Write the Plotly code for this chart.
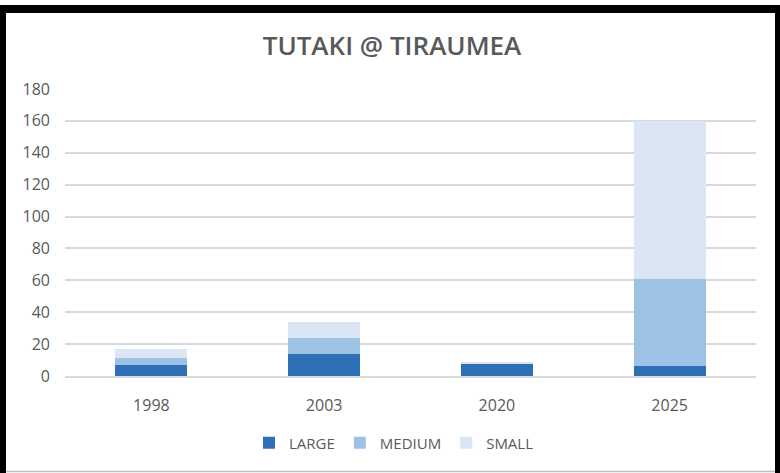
import plotly.graph_objects as go

years = ["1998", "2003", "2020", "2025"]
large = [7, 14, 8, 6]
medium = [4, 10, 0, 55]
small = [6, 10, 1, 99]
series_names = ["LARGE", "MEDIUM", "SMALL"]
y_ticks = [0, 20, 40, 60, 80, 100, 120, 140, 160, 180]

colors = ["#2E70B6", "#9DC2E5", "#DAE6F4"]

W, H = 780, 473
L, R, T, B = 65, 24, 89, 97
pw, ph = W - L - R, H - T - B


def px(x):
    return (x - L) / pw


def py(y):
    return (H - B - y) / ph


fig = go.Figure()
for name, vals, col in zip(series_names, [large, medium, small], colors):
    fig.add_trace(go.Bar(x=years, y=vals, name=name, marker=dict(color=col, line=dict(width=0))))

frame = [
    # outer frame: heavy black on left, top and right, thin grey at the bottom
    dict(x0=px(0), x1=px(6), y0=py(5), y1=py(473)),
    dict(x0=px(0), x1=px(780), y0=py(5), y1=py(13)),
    dict(x0=px(775), x1=px(780), y0=py(5), y1=py(473)),
]
shapes = [dict(type="rect", xref="paper", yref="paper", fillcolor="black", line=dict(width=0), layer="above", **f) for f in frame]
shapes.append(dict(type="line", xref="paper", yref="paper", x0=px(6), x1=px(775), y0=py(471.5), y1=py(471.5),
                   line=dict(color="#BFBFBF", width=1.5)))

fig.update_layout(
    width=W, height=H,
    margin=dict(l=L, r=R, t=T, b=B),
    barmode="stack",
    bargap=0.583,
    paper_bgcolor="white",
    plot_bgcolor="white",
    font=dict(family="Open Sans", color="#595959", size=15),
    title=dict(text="TUTAKI @ TIRAUMEA", x=392 / W, xref="container", xanchor="center",
               y=(H - 46) / H, yanchor="middle",
               font=dict(family="Open Sans", size=26, color="#595959", weight=600)),
    xaxis=dict(showgrid=False, showline=True, linecolor="#D9D9D9", linewidth=1.5,
               ticks="", ticklabelstandoff=14, tickfont=dict(size=16, color="#595959")),
    yaxis=dict(range=[0, 180], tickvals=y_ticks, showgrid=True, gridcolor="#D9D9D9",
               gridwidth=1.5, zeroline=False, showline=False, ticks="",
               ticklabelstandoff=14, tickfont=dict(size=16, color="#595959")),
    legend=dict(orientation="h", x=px(394), xanchor="center", y=py(443), yanchor="middle",
                font=dict(size=15, color="#595959"), traceorder="normal",
                itemwidth=30, tracegroupgap=0),
    shapes=shapes,
    showlegend=True,
)

fig.write_html("out.html")
